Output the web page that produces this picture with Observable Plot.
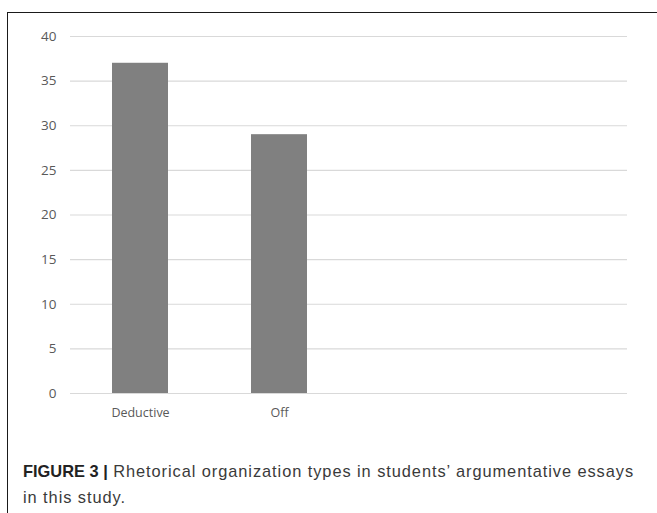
<!DOCTYPE html>
<html>
<head>
<meta charset="utf-8">
<script src="https://cdn.jsdelivr.net/npm/d3@7"></script>
<script src="https://cdn.jsdelivr.net/npm/@observablehq/plot@0.6"></script>
<style>
  html, body { margin: 0; padding: 0; background: #fff; }
  body { width: 657px; height: 513px; position: relative; overflow: hidden; }
  #frame { position: absolute; left: 7px; top: 12px; width: 660px; height: 520px;
           border-top: 1px solid #1a1a1a; border-left: 1px solid #1a1a1a; }
  #chart { position: absolute; left: 8px; top: 13px; }
  #caption { position: absolute; left: 23px; top: 458px; width: 634px; white-space: nowrap;
             font-family: "Liberation Sans", Arial, sans-serif; font-size: 16.4px;
             line-height: 26px; color: #3a3a3a; letter-spacing: 0.93px; }
  #caption b { color: #222; letter-spacing: 0; }
</style>
</head>
<body>
<div id="frame"></div>
<div id="chart"></div>
<div id="caption"><b>FIGURE 3 |</b> Rhetorical organization types in students’ argumentative essays<br>in this study.</div>
<script>
const categories = ["Deductive", "Off"];
const values = [37, 29];
const emptySlots = ["", " "];
const yTicks = [0, 5, 10, 15, 20, 25, 30, 35, 40];

const data = categories.map((c, i) => ({category: c, value: values[i]}));

const plot = Plot.plot({
  width: 649,
  height: 420,
  marginLeft: 62,
  marginRight: 30,
  marginTop: 23,
  marginBottom: 40,
  style: {fontFamily: "'Open Sans', sans-serif", fontSize: "12.5px", color: "#595959", background: "transparent"},
  x: {domain: categories.concat(emptySlots), paddingInner: 0.6, paddingOuter: 0.3, label: null},
  y: {domain: [0, 40], label: null},
  marks: [
    Plot.ruleY(yTicks, {stroke: "#d9d9d9", strokeWidth: 1.2}),
    Plot.barY(data, {x: "category", y: "value", fill: "#808080"}),
    Plot.axisY({ticks: yTicks, tickSize: 0, tickPadding: 14, label: null, fontSize: 13.5}),
    Plot.axisX({tickSize: 0, tickPadding: 15, label: null, fontSize: 12.5})
  ]
});
document.getElementById("chart").appendChild(plot);
</script>
</body>
</html>
